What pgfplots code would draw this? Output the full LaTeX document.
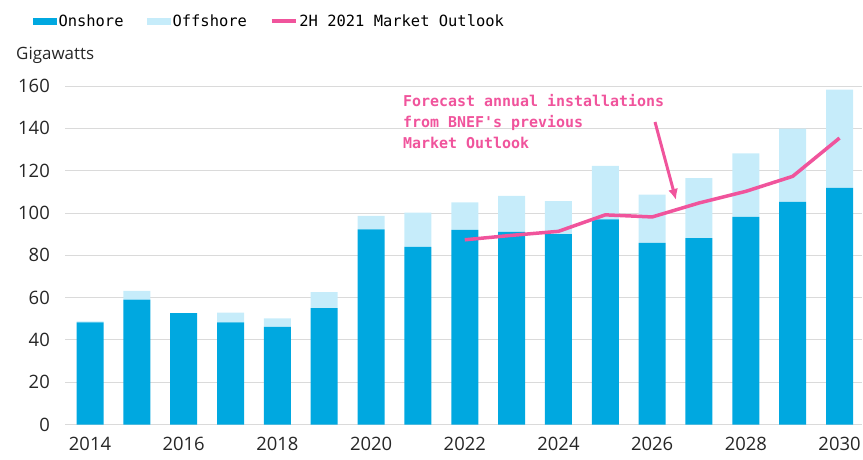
\documentclass[border=0pt]{standalone}
\usepackage{pgfplots}
\pgfplotsset{compat=1.18}
\usepackage{fontspec}
\setmainfont{Open Sans}
\newfontfamily\monofont{DejaVu Sans Mono}
\usetikzlibrary{arrows.meta}

\definecolor{onshore}{RGB}{0,168,224}
\definecolor{offshore}{RGB}{198,236,250}
\definecolor{outlook}{RGB}{240,84,156}
\definecolor{gridgray}{RGB}{218,218,218}

\pgfplotsset{chartbox/.style={
  at={(65bp,35.5bp)}, anchor=south west,
  scale only axis, width=797bp, height=338.5bp,
  xmin=2013.466, xmax=2030.48, ymin=0, ymax=160}}

\begin{document}
\begin{tikzpicture}
\path[use as bounding box] (0,0) rectangle (863bp,460bp);
\begin{axis}[
  chartbox,
  ybar stacked, bar width=27bp,
  axis line style={draw=none},
  ymajorgrids, grid style={gridgray, line width=0.8bp},
  ytick={0,20,...,160},
  xtick={2014,2016,...,2030},
  major tick length=0pt,
  xticklabel style={/pgf/number format/1000 sep={}},
  tick label style={font=\fontsize{18.5}{18.5}\selectfont, text=black!85},
  yticklabel style={anchor=east, inner sep=0pt, xshift=-15bp},
  xticklabel style={anchor=north, inner sep=0pt, yshift=-12.5bp},
  /pgf/number format/assume math mode=true,
  legend style={at={(-0.041,1.192)}, anchor=west, draw=none, fill=none,
    legend columns=-1, font=\monofont\fontsize{15.5}{16}\selectfont,
    inner sep=0pt,
    /tikz/every odd column/.append style={column sep=0bp},
    /tikz/every even column/.append style={column sep=21bp}},
  legend cell align=left,
]
\addplot[fill=onshore, draw=none,
  legend image code/.code={\fill[onshore] (0bp,-3.5bp) rectangle (24bp,3.5bp);}]
  coordinates {(2014,48.3) (2015,59.0) (2016,52.6) (2017,48.3) (2018,46.1)
    (2019,55.0) (2020,92.2) (2021,83.9) (2022,92.0) (2023,91.0) (2024,90.0)
    (2025,96.9) (2026,85.8) (2027,88.1) (2028,98.1) (2029,105.2) (2030,111.9)};
\addlegendentry{Onshore}
\addplot[fill=offshore, draw=none,
  legend image code/.code={\fill[offshore] (0bp,-3.5bp) rectangle (24bp,3.5bp);}]
  coordinates {(2014,0.4) (2015,4.2) (2016,0) (2017,4.6) (2018,4.1)
    (2019,7.6) (2020,6.4) (2021,16.2) (2022,13.0) (2023,17.1) (2024,15.6)
    (2025,25.4) (2026,22.8) (2027,28.4) (2028,30.1) (2029,34.6) (2030,46.4)};
\addlegendentry{Offshore}
\addlegendimage{legend image code/.code={\draw[outlook, line width=3.5bp] (0bp,0bp) -- (24bp,0bp);}}
\addlegendentry{2H 2021 Market Outlook}
\end{axis}
\begin{axis}[chartbox, hide axis]
\addplot[draw=outlook, line width=3.5bp, mark=none]
  coordinates {(2022,87.3) (2023,89.4) (2024,91.3) (2025,99.1) (2026,98.1)
    (2027,104.7) (2028,110.2) (2029,117.3) (2030,135.4)};
\end{axis}
\node[anchor=west, inner sep=0pt, font=\fontsize{17}{17}\selectfont, text=black!85]
  at (16bp,405bp) {Gigawatts};
\node[anchor=north west, align=left, inner sep=0pt, text=outlook,
  font=\monofont\bfseries\fontsize{15}{21}\selectfont]
  at (403bp,366bp) {Forecast annual installations\\from BNEF's previous\\Market Outlook};
\draw[outlook, line width=3bp, -{Latex[length=11bp,width=10bp]}]
  (655bp,338bp) -- (676bp,260bp);
\end{tikzpicture}
\end{document}
